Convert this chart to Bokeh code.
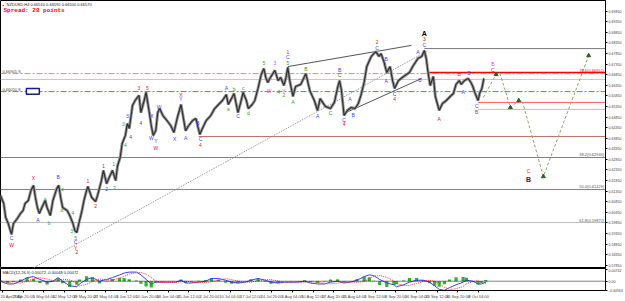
from bokeh.plotting import figure
from bokeh.models import Range1d, FixedTicker, Span, Label, ColumnDataSource, NumeralTickFormatter
from bokeh.layouts import column
from bokeh.embed import file_html
from bokeh.resources import INLINE
from bokeh.core.properties import value

# ---------------- data ----------------
# H4 bar index and close price (NZDUSD)
bars = [0, 5, 8, 12, 17, 20, 26, 31, 35, 38, 43, 47, 51, 54, 57, 60, 64, 69, 72, 77,
        81, 87, 90, 93, 96, 103, 107, 112, 115, 118, 121, 126, 129, 133, 135, 141, 147, 150, 156, 159,
        164, 168, 173, 178, 181, 185, 188, 193, 196, 199, 204, 208, 214, 217, 222, 225, 230, 233, 236, 240,
        243, 246, 251, 257, 263, 268, 273, 279, 282, 286, 291, 297, 302, 305, 308, 312, 318, 325, 331, 337,
        343, 349, 352, 357, 361, 367, 372, 375, 380, 383, 389, 393, 398, 403, 407, 410, 413, 418, 424, 429,
        433, 438, 441, 444, 447, 452, 456, 464, 472, 478, 485, 490, 494, 502, 510, 516, 521, 524, 527, 531,
        536, 542, 548, 553, 557, 562, 566, 573, 580, 585, 588, 593, 597, 602, 606, 609, 615, 623, 632, 638,
        645, 651, 655, 658, 661, 664, 669, 672, 675, 678, 683, 689, 695, 700, 704, 709, 712, 717, 723, 727,
        730, 733, 738, 741, 744, 747]
closes = [0.6115, 0.6077, 0.6011, 0.5982, 0.5931, 0.5982, 0.6006, 0.6030, 0.6044, 0.6077, 0.6091, 0.6138, 0.6162, 0.6105, 0.6058, 0.6030, 0.6058, 0.6091, 0.6058, 0.6020,
          0.6091, 0.6148, 0.6162, 0.6105, 0.6058, 0.6044, 0.6020, 0.5982, 0.5949, 0.5940, 0.5982, 0.6044, 0.6091, 0.6138, 0.6157, 0.6105, 0.6086, 0.6115, 0.6185, 0.6233,
          0.6171, 0.6200, 0.6233, 0.6185, 0.6256, 0.6294, 0.6360, 0.6398, 0.6454, 0.6431, 0.6539, 0.6563, 0.6587, 0.6506, 0.6563, 0.6601, 0.6506, 0.6445, 0.6398, 0.6421,
          0.6506, 0.6525, 0.6492, 0.6469, 0.6445, 0.6412, 0.6478, 0.6544, 0.6492, 0.6421, 0.6445, 0.6469, 0.6478, 0.6440, 0.6403, 0.6431, 0.6469, 0.6492, 0.6525, 0.6544,
          0.6563, 0.6591, 0.6544, 0.6572, 0.6596, 0.6506, 0.6563, 0.6601, 0.6563, 0.6525, 0.6544, 0.6563, 0.6620, 0.6686, 0.6714, 0.6672, 0.6648, 0.6676, 0.6705, 0.6657,
          0.6672, 0.6634, 0.6667, 0.6719, 0.6657, 0.6582, 0.6629, 0.6639, 0.6690, 0.6610, 0.6563, 0.6516, 0.6572, 0.6535, 0.6525, 0.6554, 0.6624, 0.6657, 0.6610, 0.6492,
          0.6516, 0.6530, 0.6525, 0.6549, 0.6587, 0.6648, 0.6723, 0.6771, 0.6794, 0.6771, 0.6785, 0.6742, 0.6695, 0.6723, 0.6657, 0.6620, 0.6657, 0.6676, 0.6695, 0.6728,
          0.6761, 0.6771, 0.6799, 0.6761, 0.6690, 0.6634, 0.6676, 0.6582, 0.6549, 0.6516, 0.6549, 0.6563, 0.6582, 0.6596, 0.6639, 0.6657, 0.6639, 0.6657, 0.6667, 0.6648,
          0.6629, 0.6601, 0.6563, 0.6601, 0.6620, 0.6667]

# time axis
time_ticks = [3, 35, 67, 99, 131, 163, 195, 227, 259, 291, 323, 355, 387, 419, 451, 483, 515, 547, 579, 611, 643, 675, 707, 739]
time_labels = ["20 Apr 2020", "27 Apr 20:00", "5 May 04:00", "12 May 12:00", "19 May 20:00", "27 May 04:00",
               "3 Jun 12:00", "10 Jun 20:00", "18 Jun 04:00", "25 Jun 12:00", "2 Jul 20:00", "10 Jul 04:00",
               "17 Jul 12:00", "24 Jul 20:00", "3 Aug 04:00", "10 Aug 12:00", "17 Aug 20:00", "25 Aug 04:00",
               "1 Sep 12:00", "8 Sep 20:00", "16 Sep 04:00", "23 Sep 12:00", "30 Sep 20:00", "8 Oct 04:00"]

price_ticks = [0.6985, 0.6935, 0.6885, 0.6835, 0.6785, 0.6735, 0.6685, 0.6635, 0.6585, 0.6535, 0.6485, 0.6435,
               0.6385, 0.6335, 0.6285, 0.6235, 0.6185, 0.6135, 0.6085, 0.6035, 0.5985, 0.5935, 0.5885, 0.5835, 0.5785]

# horizontal levels: price and the bar where they start
level_prices = [0.6808, 0.6695, 0.6690, 0.6662, 0.6605, 0.6554, 0.6521, 0.6393, 0.6294, 0.6143, 0.5987]
level_start = [655, 661, 0, 0, 0, 738, 738, 306, 0, 0, 0]

fib_texts = ["78.6(0.66951)", "38.2(0.62940)", "50.0(0.61429)", "61.8(0.59872)"]
fib_prices = [0.6695, 0.6294, 0.6143, 0.5987]

sr_texts = ["0.66905 S", "0.66050 S"]
sr_prices = [0.6690, 0.6605]

# trend / channel lines
trend_x0 = [49, 444, 531]
trend_y0 = [0.5770, 0.6723, 0.6502]
trend_x1 = [661, 635, 651]
trend_y1 = [0.6799, 0.6823, 0.6667]

# projected path
proj_bars = [746, 766, 772, 788, 801, 807, 839, 909]
proj_prices = [0.6577, 0.6686, 0.6690, 0.6530, 0.6563, 0.6554, 0.6204, 0.6775]
arrow_bars = [766, 788, 801, 839, 909]
arrow_prices = [0.6686, 0.6530, 0.6563, 0.6204, 0.6775]

# wave labels
wave_bars = [17, 17, 51, 58, 89, 69, 75, 96, 95, 110, 112, 116, 116, 116, 118, 135, 147, 159, 164, 175,
             176, 190, 193, 196, 201, 214, 217, 227, 234, 233, 240, 240, 245, 269, 279, 279, 286, 305, 309, 309,
             349, 352, 361, 367, 375, 383, 407, 415, 424, 430, 438, 438, 444, 444, 444, 452, 472, 490, 510, 524,
             524, 531, 531, 540, 545, 582, 582, 596, 596, 609, 609, 645, 648, 655, 655, 678, 709, 715, 724, 736,
             736, 761, 761, 816]
wave_prices = [0.5883, 0.5912, 0.6195, 0.6001, 0.6200, 0.6100, 0.5987, 0.6143, 0.6044, 0.5949, 0.6034, 0.5916, 0.5893, 0.5869, 0.5846, 0.6185, 0.6067, 0.6256, 0.6143, 0.6261,
               0.6152, 0.6450, 0.6351, 0.6492, 0.6393, 0.6620, 0.6459, 0.6624, 0.6492, 0.6384, 0.6370, 0.6341, 0.6530, 0.6379, 0.6591, 0.6568, 0.6388, 0.6459, 0.6379, 0.6351,
               0.6620, 0.6525, 0.6615, 0.6488, 0.6624, 0.6506, 0.6742, 0.6610, 0.6742, 0.6601, 0.6610, 0.6587, 0.6790, 0.6766, 0.6742, 0.6558, 0.6714, 0.6492, 0.6506, 0.6705,
               0.6681, 0.6473, 0.6450, 0.6568, 0.6495, 0.6837, 0.6813, 0.6761, 0.6657, 0.6596, 0.6568, 0.6790, 0.6662, 0.6851, 0.6823, 0.6478, 0.6690, 0.6605, 0.6695, 0.6539,
               0.6511, 0.6733, 0.6709, 0.6228]
wave_text = ["W", "C", "X", "A", "B", "a", "b", "c", "d", "3", "4", "5", "C", "Y", "2", "1", "2", "1", "2", "1",
             "2", "3", "4", "3", "4", "3", "4", "5", "X", "W", "Y", "W", "W", "X", "X", "Y", "A", "B", "C", "4",
             "A", "a", "b", "C", "c", "d", "5", "W", "3", "4", "Y", "2", "1", "C", "5", "A", "B", "A", "C", "B",
             "C", "C", "4", "A", "B", "2", "C", "B", "A", "C", "4", "A", "B", "3", "C", "A", "B", "A", "B", "C",
             "B", "B", "C", "C"]
wave_kind = ["R", "B", "R", "B", "B", "G", "G", "G", "G", "G", "G", "G", "B", "R", "R", "R", "R", "B", "B", "G",
             "G", "G", "G", "B", "B", "R", "R", "R", "B", "B", "B", "R", "B", "B", "R", "B", "B", "B", "B", "R",
             "B", "G", "G", "B", "G", "G", "G", "P", "P", "G", "P", "G", "R", "B", "G", "G", "G", "B", "G", "B",
             "G", "B", "R", "B", "B", "R", "B", "B", "B", "B", "R", "B", "B", "R", "B", "R", "R", "B", "B", "B",
             "R", "P", "R", "R"]
big_bars = [655, 816]
big_prices = [0.6879, 0.6190]
big_text = ["A", "B"]

# MACD panel
macd_bars = [0, 11, 20, 31, 41, 51, 61, 72, 81, 89, 96, 107, 118, 122, 133, 142, 153, 164, 173, 184,
             191, 199, 210, 217, 225, 233, 240, 250, 260, 271, 279, 286, 295, 306, 317, 326, 337, 348, 357, 367,
             378, 387, 398, 409, 418, 429, 439, 449, 459, 470, 479, 490, 501, 510, 521, 531, 540, 551, 562, 570,
             577, 586, 597, 608, 612, 623, 632, 643, 654, 663, 671, 678, 686, 694, 704, 715, 720, 730, 738, 743, 750]
macd_main = [0.0000, -0.0017, -0.0017, 0.0000, 0.0022, 0.0028, 0.0011, -0.0006, 0.0000, 0.0022,
             0.0000, -0.0028, -0.0034, -0.0017, 0.0011, 0.0022, 0.0000, 0.0011, 0.0022, 0.0039,
             0.0050, 0.0056, 0.0056, 0.0039, 0.0011, -0.0017, -0.0006, -0.0006, -0.0006, -0.0006,
             0.0006, -0.0011, -0.0011, -0.0006, 0.0000, 0.0017, 0.0017, 0.0006, -0.0006, -0.0011,
             -0.0006, 0.0006, 0.0017, 0.0006, -0.0006, -0.0011, -0.0006, -0.0006, -0.0006, 0.0000,
             -0.0011, -0.0017, -0.0017, -0.0006, 0.0000, -0.0011, -0.0006, 0.0006, 0.0028, 0.0039,
             0.0034, 0.0011, -0.0011, -0.0022, -0.0034, -0.0022, -0.0006, 0.0006, 0.0006, -0.0006,
             -0.0028, -0.0050, -0.0056, -0.0039, -0.0022, -0.0006, 0.0006, 0.0000, -0.0017, -0.0017, -0.0006]
macd_signal = [-0.0004, -0.0006, -0.0012, -0.0010, 0.0000, 0.0015, 0.0022, 0.0014, 0.0003, 0.0004,
               0.0012, 0.0008, -0.0012, -0.0028, -0.0020, -0.0002, 0.0014, 0.0008, 0.0008, 0.0018,
               0.0030, 0.0044, 0.0052, 0.0054, 0.0044, 0.0022, 0.0000, -0.0008, -0.0006, -0.0006,
               -0.0004, 0.0000, -0.0004, -0.0009, -0.0008, -0.0003, 0.0008, 0.0015, 0.0010, 0.0001,
               -0.0006, -0.0006, 0.0002, 0.0010, 0.0010, 0.0001, -0.0006, -0.0008, -0.0007, -0.0006,
               -0.0004, -0.0006, -0.0013, -0.0016, -0.0012, -0.0004, -0.0005, -0.0007, -0.0001, 0.0015,
               0.0031, 0.0035, 0.0024, 0.0002, -0.0015, -0.0026, -0.0026, -0.0014, 0.0000, 0.0006,
               0.0000, -0.0016, -0.0037, -0.0050, -0.0046, -0.0032, -0.0016, -0.0002, 0.0003, -0.0008, -0.0014]
macd_hist = [0.0004, -0.0011, -0.0005, 0.0010, 0.0022, 0.0013, -0.0011, -0.0020, -0.0003, 0.0018,
             -0.0012, -0.0036, -0.0022, 0.0011, 0.0031, 0.0024, -0.0014, 0.0003, 0.0014, 0.0021,
             0.0020, 0.0012, 0.0004, -0.0015, -0.0033, -0.0039, -0.0006, 0.0002, 0.0000, 0.0000,
             0.0010, -0.0011, -0.0007, 0.0003, 0.0008, 0.0020, 0.0009, -0.0009, -0.0016, -0.0012,
             0.0000, 0.0012, 0.0015, -0.0004, -0.0016, -0.0012, 0.0000, 0.0002, 0.0001, 0.0006,
             -0.0007, -0.0011, -0.0004, 0.0010, 0.0012, -0.0007, -0.0001, 0.0013, 0.0029, 0.0024,
             0.0003, -0.0024, -0.0035, -0.0024, -0.0019, 0.0004, 0.0020, 0.0020, 0.0006, -0.0012,
             -0.0028, -0.0034, -0.0019, 0.0011, 0.0024, 0.0026, 0.0022, 0.0002, -0.0020, -0.0009, 0.0008]
osc_ticks = [0.0074, 0.0, -0.0056]
osc_labels = ["0.00742", "0.00", "-0.00563"]

last_close = 0.6657

# ---------------- styles ----------------
FONT = value("Liberation Sans")
level_colors = ["#7a7a7a", "#ff0000", "#f08a50", "#c8c8c8", "#2fb02f", "#ff5a5a", "#f0a8a8", "#c87070",
                "#808080", "#808080", "#bdbdbd"]
level_widths = [1, 1.5, 1, 1, 1, 1, 1, 1, 1, 1, 1]
level_dash = ["solid", "solid", "6 2 2 2", "solid", "6 2 2 2", "solid", "solid", "solid", "solid", "solid", "solid"]
kind_color = {"R": "#e8121a", "B": "#3b3bff", "G": "#2fa02f", "P": "#e040e0"}
trend_colors = ["#909090", "#555555", "#555555"]
trend_dash = ["1 1", "solid", "solid"]
AX_FONT = "3.6px"
RB = 16

X_END = 935

p1 = figure(width=625, height=268, x_range=Range1d(0, X_END), y_range=Range1d(0.5770, 0.7035),
            output_backend="svg", toolbar_location=None, x_axis_location=None, y_axis_location="right",
            min_border_left=0, min_border_top=0, min_border_bottom=0, min_border_right=RB)
p1.grid.visible = False
p1.outline_line_color = "black"
p1.outline_line_width = 1
p1.background_fill_color = "white"
ya = p1.yaxis[0]
ya.ticker = FixedTicker(ticks=price_ticks)
ya.formatter = NumeralTickFormatter(format="0.00000")
ya.major_label_text_font_size = AX_FONT
ya.major_label_text_font = "Liberation Sans"
ya.major_tick_out = 2
ya.major_tick_in = 0
ya.minor_tick_out = 0
ya.minor_tick_in = 0
ya.major_label_standoff = 1
ya.axis_line_color = "black"

# levels
for lp, ls, c, w, d in zip(level_prices, level_start, level_colors, level_widths, level_dash):
    p1.segment(x0=[ls], y0=[lp], x1=[X_END], y1=[lp], line_color=c, line_width=w, line_dash=d)

# trend lines
for x0, y0, x1, y1, c, d in zip(trend_x0, trend_y0, trend_x1, trend_y1, trend_colors, trend_dash):
    p1.segment(x0=[x0], y0=[y0], x1=[x1], y1=[y1], line_color=c, line_width=1, line_dash=d)

# blue box on the support label
p1.quad(left=[40], right=[60], bottom=[0.6592], top=[0.6620], fill_color="white", line_color="#1a1a8c", line_width=1.5)

# price
p1.line(bars, closes, line_color="#9a9a9a", line_width=3)
p1.line(bars, closes, line_color="#303030", line_width=1.2)

# projection
p1.line(proj_bars, proj_prices, line_color="#8aa86a", line_width=1, line_dash="3 2")
p1.scatter(arrow_bars, arrow_prices, marker="triangle", size=4, fill_color="#2e5e1e", line_color="#2e5e1e")

# wave labels
src = ColumnDataSource(dict(x=wave_bars, y=wave_prices, t=wave_text, c=[kind_color[k] for k in wave_kind]))
p1.text(x="x", y="y", text="t", text_color="c", source=src, text_font=FONT, text_font_size="5px",
        text_align="center", text_baseline="middle")
p1.text(x=big_bars, y=big_prices, text=big_text, text_color=["#000000", "#8b0000"], text_font=FONT,
        text_font_size="7px", text_font_style="bold", text_align="center", text_baseline="middle")

# fib / level texts
p1.text(x=[X_END - 2] * len(fib_texts), y=fib_prices, text=fib_texts,
        text_color=["#ff0000", "#555555", "#555555", "#555555"], text_font=FONT, text_font_size="4px",
        text_align="right", text_baseline="bottom")
p1.text(x=[3] * len(sr_texts), y=sr_prices, text=sr_texts, text_color="#444444", text_font=FONT,
        text_font_size="4px", text_align="left", text_baseline="bottom")

# header
p1.add_layout(Label(x=0, y=0.7035, x_offset=6, y_offset=-1, text="NZDUSD,H4  0.66510 0.66590 0.66500 0.66570",
                    text_font_size="4px", text_font="Liberation Sans", text_color="#222222", text_baseline="top"))
p1.add_layout(Label(x=0, y=0.7035, x_offset=2, y_offset=-2, text="\u25aa", text_font_size="4px",
                    text_color="black", text_baseline="top"))
p1.add_layout(Label(x=0, y=0.7035, x_offset=3, y_offset=-6, text="Spread: 28 points",
                    text_font_size="6px", text_font="Liberation Mono", text_font_style="bold",
                    text_color="#ff0000", text_baseline="top"))
# last price tag on the axis
p1.add_layout(Label(x=X_END, y=last_close, x_offset=1, text="0.66570", text_font_size=AX_FONT,
                    text_font="Liberation Sans", text_color="white", background_fill_color="black",
                    text_baseline="middle"))

# ---------------- MACD panel ----------------
p2 = figure(width=625, height=33, x_range=p1.x_range, y_range=Range1d(-0.0057, 0.0078),
            output_backend="svg", toolbar_location=None, y_axis_location="right",
            min_border_left=0, min_border_top=0, min_border_bottom=0, min_border_right=RB)
p2.grid.visible = False
p2.outline_line_color = "black"
p2.outline_line_width = 1
p2.vbar(x=macd_bars, top=macd_hist, bottom=0, width=5, fill_color="#32b432", line_color=None)
p2.add_layout(Span(location=0, dimension="width", line_color="black", line_dash="1 1", line_width=1))
p2.line(macd_bars, macd_main, line_color="#3c3cff", line_width=1)
p2.line(macd_bars, macd_signal, line_color="#ff3030", line_width=1, line_dash="1 1")
p2.add_layout(Label(x=0, y=0.0078, x_offset=2, y_offset=-1, text="MACD(12,26,9) 0.00072 -0.00048 0.00072",
                    text_font_size="4px", text_font="Liberation Sans", text_color="#222222", text_baseline="top"))

xa = p2.xaxis[0]
xa.ticker = FixedTicker(ticks=time_ticks)
xa.major_label_overrides = {t: l for t, l in zip(time_ticks, time_labels)}
xa.major_label_text_font_size = "4px"
xa.major_label_text_font = "Liberation Sans"
xa.major_label_text_align = "left"
xa.major_tick_out = 2
xa.major_tick_in = 0
xa.minor_tick_out = 0
xa.minor_tick_in = 0
xa.major_label_standoff = 1
xa.axis_line_color = "black"

ya2 = p2.yaxis[0]
ya2.ticker = FixedTicker(ticks=osc_ticks)
ya2.major_label_overrides = {t: l for t, l in zip(osc_ticks, osc_labels)}
ya2.major_label_text_font_size = AX_FONT
ya2.major_label_text_font = "Liberation Sans"
ya2.major_tick_out = 2
ya2.major_tick_in = 0
ya2.minor_tick_out = 0
ya2.minor_tick_in = 0
ya2.major_label_standoff = 1

layout = column(p1, p2, spacing=0)
open("out.html", "w").write(file_html(layout, INLINE))
